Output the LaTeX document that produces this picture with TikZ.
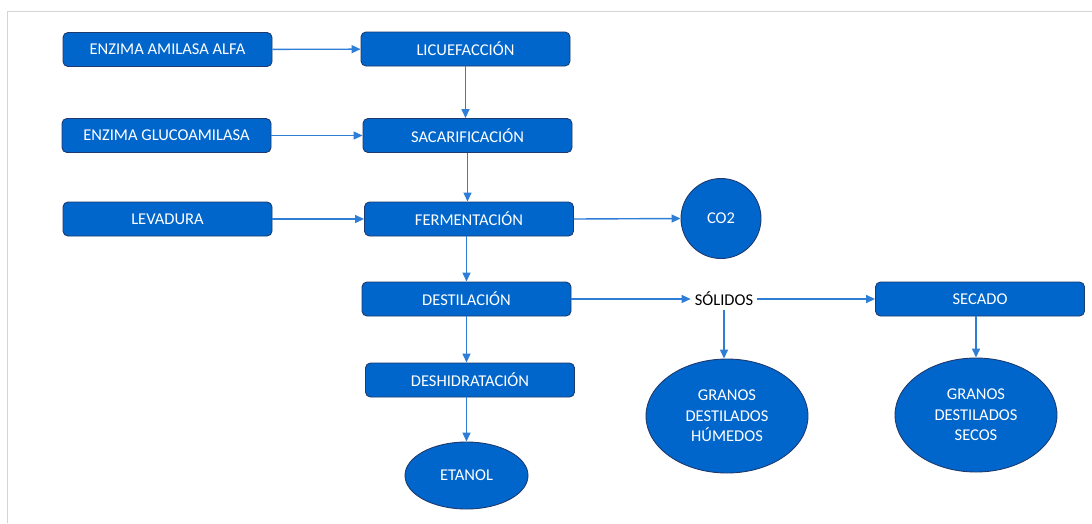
\documentclass[tikz,border=0pt]{standalone}
\usepackage{fontspec}
\setmainfont{Carlito}
\usetikzlibrary{arrows.meta,shapes.geometric}
\definecolor{boxblue}{RGB}{0,102,204}
\definecolor{boxedge}{RGB}{30,58,110}
\definecolor{flowblue}{RGB}{46,125,214}
\definecolor{framegray}{RGB}{212,212,212}
\tikzset{
  procbox/.style={draw=boxedge, fill=boxblue, rounded corners=5pt, line width=0.9pt,
    minimum width=209pt, minimum height=34pt, inner sep=0pt, text=white,
    font=\fontsize{16.5}{20.5}\selectfont},
  prodell/.style={ellipse, draw=boxedge, fill=boxblue, line width=0.9pt, inner sep=0pt,
    text=white, align=center, font=\fontsize{16.5}{20.5}\selectfont},
  flow/.style={draw=flowblue, line width=1.4pt, -{Triangle[length=9pt,width=8pt]}}
}
\begin{document}
\begin{tikzpicture}[x=1pt,y=-1pt]
\useasboundingbox (0,0) rectangle (1092,523);
\draw[framegray, line width=1.5pt] (7.5,523) -- (7.5,11.5) -- (1092,11.5);

% entradas
\node[procbox] (amilasa) at (167.5,49.5) {ENZIMA AMILASA ALFA};
\node[procbox] (glucoamilasa) at (166.5,135.5) {ENZIMA GLUCOAMILASA};
\node[procbox] (levadura) at (167.5,219) {LEVADURA};

% proceso
\node[procbox] (licuefaccion) at (465.5,49) {LICUEFACCIÓN};
\node[procbox] (sacarificacion) at (467.5,135.5) {SACARIFICACIÓN};
\node[procbox] (fermentacion) at (469,219) {FERMENTACIÓN};
\node[procbox] (destilacion) at (466.5,299) {DESTILACIÓN};
\node[procbox] (deshidratacion) at (470,380) {DESHIDRATACIÓN};
\node[procbox] (secado) at (980,299) {SECADO};

% productos
\node[prodell, circle, minimum size=80pt] (co2) at (721,218.5) {CO2};
\node[prodell, minimum width=123pt, minimum height=67pt] (etanol) at (466.5,475.5) {ETANOL};
\node[prodell, minimum width=162pt, minimum height=114pt] (humedos) at (727,416) {GRANOS\\DESTILADOS\\HÚMEDOS};
\node[prodell, minimum width=162pt, minimum height=114pt] (secos) at (976,415) {GRANOS\\DESTILADOS\\SECOS};
\node[font=\fontsize{16.5}{20.5}\selectfont, inner sep=4pt] (solidos) at (724,299) {SÓLIDOS};

% flechas
\draw[flow] (amilasa) -- (licuefaccion);
\draw[flow] (glucoamilasa) -- (sacarificacion);
\draw[flow] (levadura) -- (fermentacion);
\draw[flow] (licuefaccion.south) -- (licuefaccion.south |- sacarificacion.north);
\draw[flow] (sacarificacion.south) -- (sacarificacion.south |- fermentacion.north);
\draw[flow] (fermentacion.south -| destilacion.north) -- (destilacion.north);
\draw[flow] (destilacion.south) -- (destilacion.south |- deshidratacion.north);
\draw[flow] (deshidratacion.south -| etanol.north) -- (etanol.north);
\draw[flow] (fermentacion.east) -- (co2.west);
\draw[flow] (destilacion.east) -- (solidos.west);
\draw[flow] (solidos.east) -- (secado.west);
\draw[flow] (solidos.south) -- (solidos.south |- humedos.north);
\draw[flow] (secado.south -| secos.north) -- (secos.north);
\end{tikzpicture}
\end{document}
